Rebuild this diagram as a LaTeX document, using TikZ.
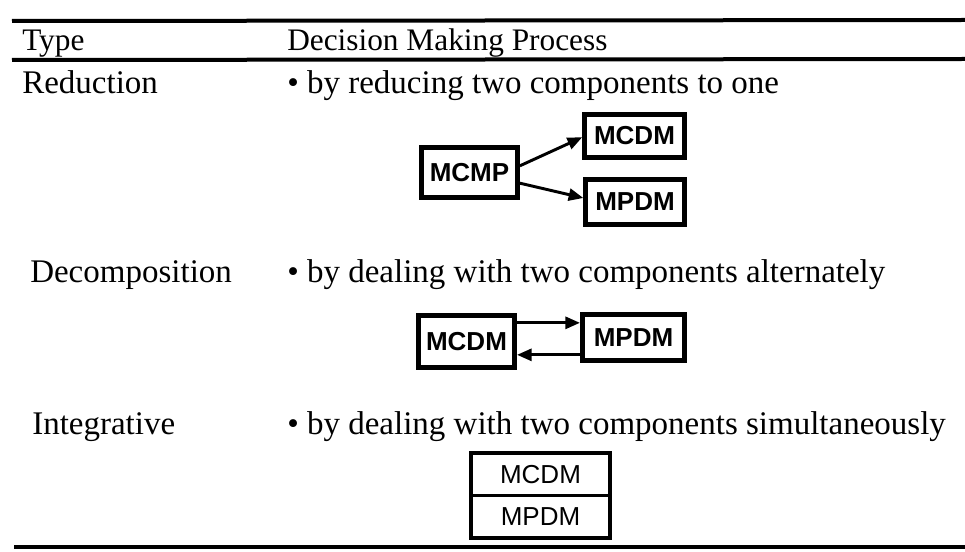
\documentclass[tikz,border=0pt]{standalone}
\usepackage{fontspec}
\setmainfont{Liberation Serif}
\newfontfamily\boxfont{Liberation Sans}
\usetikzlibrary{positioning,arrows.meta}

\begin{document}
\begin{tikzpicture}[x=0.75pt, y=-0.75pt,
                    head text/.style={inner sep=0pt, anchor=base west,
                                      font=\fontsize{23.5pt}{27pt}\selectfont},
                    body text/.style={inner sep=0pt, anchor=base west,
                                      font=\fontsize{24.75pt}{30pt}\selectfont},
                    model box/.style={draw, line width=3.5pt, inner sep=0pt,
                                      font=\boxfont\bfseries\fontsize{19.5pt}{22pt}\selectfont},
                    stack part/.style={inner sep=0pt, outer sep=0pt,
                                       minimum width=104.25pt, minimum height=31.9pt,
                                       font=\boxfont\fontsize{19.5pt}{22pt}\selectfont},
                    flow/.style={-{Triangle[length=11pt, width=9pt]}, line width=2.2pt}]
    \useasboundingbox (0,0) rectangle (965,552);

    % table rules
    \draw[line width=3pt] (12,21) -- (965,20);
    \draw[line width=3pt] (12,60) -- (965,59);
    \draw[line width=3pt] (14,547) -- (965,547);

    % header
    \node[head text] (type)    at (22,51)  {Type};
    \node[head text] (process) at (287,51) {Decision Making Process};

    % rows
    \node[body text] (reduction)  at (22,94)   {Reduction};
    \node[body text] (red text)   at (287,94)  {\textbullet\ by reducing two components to one};
    \node[body text] (decomp)     at (30,283)  {Decomposition};
    \node[body text] (dec text)   at (287,283) {\textbullet\ by dealing with two components alternately};
    \node[body text] (integ)      at (32,435)  {Integrative};
    \node[body text] (int text)   at (287,435) {\textbullet\ by dealing with two components simultaneously};

    % reduction
    \node[model box, minimum width=72pt, minimum height=37.5pt]   (mcmp)   at (469.5,172.5) {MCMP};
    \node[model box, minimum width=75pt, minimum height=32.5pt]   (mcdm r) at (634.5,136)   {MCDM};
    \node[model box, minimum width=74pt, minimum height=34pt]     (mpdm r) at (635,202)     {MPDM};

    \path[flow]
    ([yshift=5pt]mcmp.east)  edge ([yshift=-1pt]mcdm r.west)
    ([yshift=-8pt]mcmp.east) edge ([yshift=3pt]mpdm r.west);

    % decomposition
    \node[model box, minimum width=72.25pt, minimum height=39.25pt] (mcdm d) at (466.5,341.5) {MCDM};
    \node[model box, minimum width=76.75pt, minimum height=34.75pt] (mpdm d) at (633.5,337.5) {MPDM};

    \path[flow]
    ([yshift=14pt]mcdm d.east)   edge ([yshift=14pt]mcdm d.east -| mpdm d.west)
    ([yshift=-13pt]mpdm d.west)  edge ([yshift=-13pt]mpdm d.west -| mcdm d.east);

    % integrative
    \node[stack part] (mcdm i) at (540.5,474.25) {MCDM};
    \node[stack part, below=0pt of mcdm i] (mpdm i) {MPDM};
    \draw[line width=3pt] (mcdm i.north west) rectangle (mpdm i.south east);
    \draw[line width=2pt] (mcdm i.south west) -- (mcdm i.south east);
\end{tikzpicture}
\end{document}
